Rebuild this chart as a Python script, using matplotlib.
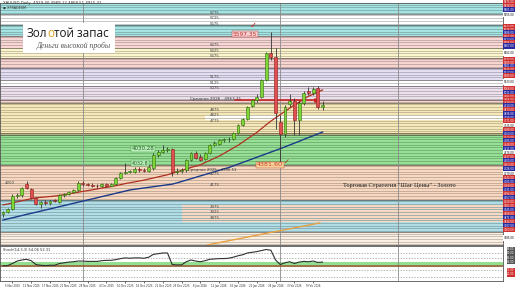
import matplotlib
matplotlib.use('Agg')
import matplotlib.pyplot as plt
import matplotlib.colors as mcolors
import matplotlib.transforms as mtransforms
from matplotlib.patches import Rectangle
import numpy as np

# daily gold candles, Nov 2025 - Feb 2026
opens = [3905, 3930, 3955, 4075, 4085, 4185, 4140, 4060, 4005, 4020, 4010, 4030, 4020, 4080, 4090, 4115, 4130,
         4195, 4188, 4180, 4172, 4165, 4185, 4172, 4188, 4240, 4290, 4300, 4300, 4325, 4318, 4310, 4330, 4456,
         4480, 4500, 4510, 4298, 4305, 4315, 4410, 4470, 4440, 4415, 4470, 4550, 4560, 4590, 4600, 4600, 4660,
         4734, 4790, 4910, 4966, 4990, 5150, 5400, 5365, 4760, 4650, 4930, 4960, 4780, 4940, 5050, 5030, 5075, 4900]
highs = [3940, 3965, 4090, 4100, 4160, 4215, 4150, 4070, 4030, 4035, 4040, 4045, 4090, 4100, 4125, 4140, 4210,
         4215, 4200, 4195, 4190, 4200, 4195, 4200, 4250, 4300, 4380, 4320, 4340, 4340, 4335, 4360, 4470, 4500,
         4545, 4530, 4520, 4330, 4330, 4420, 4480, 4490, 4460, 4480, 4560, 4585, 4600, 4615, 4620, 4670, 4740,
         4800, 4910, 4975, 5020, 5160, 5410, 5597, 5450, 4830, 4920, 5020, 4980, 4960, 5050, 5090, 5090, 5100, 4960]
lows = [3880, 3915, 3945, 4055, 4070, 4140, 4050, 3990, 3965, 3995, 3995, 4015, 4010, 4065, 4080, 4100, 4125,
        4170, 4165, 4160, 4150, 4155, 4160, 4165, 4180, 4230, 4280, 4285, 4290, 4300, 4300, 4295, 4320, 4440,
        4470, 4485, 4265, 4280, 4290, 4300, 4400, 4420, 4395, 4405, 4460, 4535, 4545, 4575, 4580, 4590, 4650,
        4720, 4780, 4900, 4950, 4980, 5140, 5340, 4700, 4382, 4620, 4900, 4640, 4640, 4920, 5010, 5010, 4880, 4870]
closes = [3930, 3955, 4075, 4085, 4150, 4145, 4060, 4005, 4020, 4010, 4030, 4028, 4080, 4092, 4115, 4130, 4195,
          4188, 4180, 4172, 4165, 4185, 4172, 4188, 4240, 4290, 4300, 4310, 4325, 4318, 4310, 4340, 4456, 4480,
          4500, 4510, 4298, 4305, 4315, 4410, 4470, 4430, 4410, 4470, 4550, 4565, 4590, 4600, 4605, 4660, 4734,
          4790, 4900, 4966, 4990, 5150, 5400, 5365, 4845, 4650, 4900, 4960, 4780, 4940, 5030, 5030, 5065, 4900, 4915]

ma_fast = [3992, 4000, 4010, 4020, 4030, 4040, 4050, 4058, 4062, 4066, 4070, 4074, 4080, 4088, 4095, 4102, 4110,
           4118, 4125, 4132, 4140, 4148, 4155, 4162, 4170, 4180, 4190, 4198, 4206, 4214, 4222, 4232, 4242, 4252,
           4262, 4272, 4285, 4298, 4312, 4326, 4340, 4352, 4363, 4385, 4405, 4425, 4445, 4470, 4495, 4520, 4545,
           4575, 4605, 4635, 4665, 4700, 4735, 4770, 4800, 4830, 4860, 4890, 4920, 4945, 4975, 5000, 5020, 5040, 5059]
ma_slow = [3852, 3862, 3872, 3883, 3893, 3904, 3914, 3924, 3934, 3945, 3955, 3965, 3976, 3986, 3996, 4007, 4017,
           4027, 4038, 4048, 4058, 4069, 4079, 4089, 4100, 4110, 4120, 4131, 4137, 4143, 4149, 4155, 4161, 4167,
           4173, 4179, 4185, 4196, 4209, 4222, 4235, 4248, 4261, 4274, 4287, 4300, 4313, 4326, 4338, 4354, 4370,
           4386, 4402, 4418, 4434, 4450, 4466, 4482, 4498, 4514, 4531, 4548, 4565, 4582, 4600, 4617, 4634, 4651, 4668]
osc = [43, 44, 50, 57, 60, 62, 58, 47, 45, 44, 45, 45, 50, 52, 54, 55, 57, 57, 56, 56, 56, 58, 59, 59, 61, 64,
       66, 65, 66, 66, 65, 68, 76, 78, 80, 80, 47, 46, 46, 55, 60, 57, 55, 58, 62, 63, 64, 64, 65, 68, 72, 75,
       80, 82, 84, 87, 90, 88, 60, 47, 52, 55, 50, 54, 56, 55, 57, 53, 54]

# labelled candles: every 4th day starting from the third
date_labels = ["5 Nov 2025", "11 Nov 2025", "17 Nov 2025", "21 Nov 2025", "28 Nov 2025", "4 Dec 2025",
               "10 Dec 2025", "16 Dec 2025", "22 Dec 2025", "29 Dec 2025", "6 Jan 2026", "12 Jan 2026",
               "16 Jan 2026", "22 Jan 2026", "28 Jan 2026", "3 Feb 2026", "9 Feb 2026"]

# colour zones of the strategy (price from, price to, colour)
zones = [(5764, 5880, '#a6e3e3'), (5662, 5764, '#ffffff'), (5560, 5662, '#a6e3e3'),
         (5449, 5560, '#f8d6d6'), (5356, 5449, '#fbf4cc'), (5263, 5356, '#f7d4cf'),
         (5152, 5263, '#e4def3'), (5096, 5152, '#ffffff'), (4966, 5096, '#ece0ec'),
         (4938, 4966, '#f5d5d0'), (4660, 4938, '#f6e8b8'), (4641, 4660, '#e8d8a0'),
         (4363, 4641, '#96e096'), (4038, 4363, '#f8d8c0'), (3741, 4038, '#b0dde6'),
         (3600, 3741, '#fbefe2')]

level_labels = [5775, 5725, 5675, 5475, 5425, 5375, 5175, 5125, 5075, 4875, 4825, 4775, 4275, 4175,
                3975, 3925, 3875]

tag_prices = [5875, 5838, 5801, 5755, 5643, 5616, 5588, 5551, 5523, 5495, 5467, 5402, 5337, 5309, 5281,
              5244, 5217, 5189, 5133, 5068, 5031, 4994, 4966, 4938, 4910, 4873, 4836, 4799, 4771, 4725,
              4688, 4650, 4613, 4585, 4548, 4511, 4474, 4437, 4400, 4363, 4326, 4279, 4242, 4205, 4168,
              4131, 4094, 4057, 4019, 3982, 3945, 3908, 3871, 3834, 3797, 3760, 3685]
tag_kinds = "rrbw" "rrbrbrbw" "rrbrbrw" "rbrrrbrbbrw" "rbrbrbw" "rbrbw" "rbrbrbrrbrbrbrw"

osc_tags = [90, 80, 66, 55, 31, 20]
osc_tag_colors = ['#555555', '#555555', '#555555', '#555555', '#d03030', '#d03030']

x = np.arange(len(closes))
XMIN, XMAX = -0.64, 106.4

fig = plt.figure(figsize=(5.16, 2.9), dpi=100)
fig.patch.set_facecolor('white')
ax = fig.add_axes([0, 45 / 290, 503 / 516, 242 / 290])
ax2 = fig.add_axes([0, 9 / 290, 503 / 516, 35 / 290])

# zones and level lines
for lo, hi, c in zones:
    ax.axhspan(lo, hi, color=c, lw=0, zorder=0)
ax.add_patch(Rectangle((43, 4780), XMAX - 43, 47, color='white', lw=0, zorder=0.5))
ax.add_patch(Rectangle((38, 3834), XMAX - 38, 158, color='#f8d8c0', lw=0, zorder=0.5))

for lvl in np.arange(3625, 5876, 25):
    col = '#b0b0b0'
    for lo, hi, c in zones:
        if lo <= lvl < hi and c != '#ffffff':
            col = tuple(np.array(mcolors.to_rgb(c)) * 0.72)
    ax.axhline(lvl, color=col, lw=0.5, zorder=1)
for lo, hi, c in zones[1:]:
    ax.axhline(hi, color=tuple(np.array(mcolors.to_rgb(c)) * 0.55), lw=0.7, zorder=1)

for sep in [17, 59, 84]:
    ax.axvline(sep, color='#8a8a8a', lw=0.6, zorder=1.5)
    ax2.axvline(sep, color='#8a8a8a', lw=0.6, zorder=1.5)

# moving averages and lines
ax.plot(x, ma_slow, color='#1a3a8a', lw=1.0, zorder=3)
ax.plot(x, ma_fast, color='#b03020', lw=0.9, zorder=3)
ax.plot([43.4, 67.4], [3620, 3825], color='#e8a040', lw=1.0, zorder=3)
ax.plot([49.4, 66.5], [4963, 4963], color='#d02020', lw=1.1, zorder=4)
ax.plot([66.5], [4963], marker='>', color='#d02020', ms=2.5, zorder=4)

# candles
for i in range(len(closes)):
    o, h, l, c = opens[i], highs[i], lows[i], closes[i]
    up = c >= o
    ax.vlines(i, l, h, color='#333333', lw=0.6, zorder=4)
    body = max(abs(c - o), 6)
    ax.bar(i, body, 0.62, bottom=min(o, c), color='#7fd636' if up else '#e05050',
           edgecolor='#2e6b10' if up else '#8b1a1a', lw=0.4, zorder=5)

ax.set_xlim(XMIN, XMAX)
ax.set_ylim(3620, 5866)
ax.set_xticks([])
ax.set_yticks([])
for s in ax.spines.values():
    s.set_color('#555555')
    s.set_linewidth(0.6)

# text on the chart
for lvl in level_labels:
    ax.text(44, lvl, str(lvl), fontsize=2.8, color='#444444', va='center', zorder=6)
ax.text(0.3, 4196, "4200", fontsize=2.8, color='#444444', va='center', zorder=6)
ax.text(48.9, 5578, "5597.35", fontsize=4.2, color='#c03030', va='center', zorder=6,
        bbox=dict(boxstyle='square,pad=0.1', fc='#f6d0d0', ec='#c03030', lw=0.3))
ax.text(53.2, 5662, "✓", fontsize=6, color='#d02020', ha='center', va='center', zorder=6)
ax.text(54, 4363, "4381.60", fontsize=4.6, color='#d04020', va='center', zorder=6,
        bbox=dict(boxstyle='square,pad=0.1', fc='#f3d2a0', ec='#d04020', lw=0.3))
ax.text(60.4, 4390, "✓", fontsize=5, color='#a03010', ha='center', va='center', zorder=6)
ax.text(27.4, 4511, "4030.28", fontsize=4, color='#206020', va='center', zorder=6,
        bbox=dict(boxstyle='square,pad=0.1', fc='#b8ecb8', ec='#40a040', lw=0.3))
ax.text(27.4, 4381, "4032.8", fontsize=3.4, color='#206020', va='center', zorder=6,
        bbox=dict(boxstyle='square,pad=0.1', fc='#b8ecb8', ec='#40a040', lw=0.3))
ax.text(39.8, 4975, "Средняя 2026 - 4963.31", fontsize=3, color='#333333', va='center', zorder=6)
ax.text(39.4, 4316, "Средняя 2025 - 4366.51", fontsize=2.8, color='#333333', va='center', zorder=6)
ax.text(72.3, 4168, "Торговая Стратегия \"Шаг Цены\" - Золото", fontsize=4.6,
        family='Liberation Serif', color='#222222', va='center', zorder=6)

# price tags on the right scale, right-aligned to the image edge
tag_tr = mtransforms.blended_transform_factory(fig.transFigure, ax.transData)
for p, k in zip(tag_prices, tag_kinds):
    fc = {'r': '#d03030', 'b': '#2a2aa0', 'w': '#ffffff'}[k]
    tc = '#000000' if k == 'w' else '#ffffff'
    fig.text(514.5 / 516, p, f"{p:.2f}", transform=tag_tr, fontsize=1.9, color=tc,
             va='center', ha='right', bbox=dict(boxstyle='square,pad=0.2', fc=fc, ec='none'))

# oscillator panel
ax2.axhspan(46, 54, color='#90e090', lw=0)
ax2.axhline(43, color='#8b5a2b', lw=1.2)
for lvl in [80, 66, 31, 11]:
    ax2.axhline(lvl, color='#999999', lw=0.5, ls=(0, (2, 2)))
ax2.plot(x, osc, color='#303030', lw=0.8)
ax2.set_xlim(XMIN, XMAX)
ax2.set_ylim(0, 100)
ax2.set_yticks([])
ax2.set_xticks(x[2::4])
ax2.set_xticklabels(date_labels, fontsize=1.9, color='#333333')
ax2.tick_params(axis='x', length=1.5, width=0.4, pad=1)
for s in ax2.spines.values():
    s.set_color('#555555')
    s.set_linewidth(0.6)
ax2.text(0.005, 0.93, "Stoch(14,3,3) 54.06 52.31", transform=ax2.transAxes, fontsize=2.6,
         color='#333333', va='top')
osc_tr = mtransforms.blended_transform_factory(fig.transFigure, ax2.transData)
for v, fc in zip(osc_tags, osc_tag_colors):
    fig.text(514.5 / 516, v, f"{v:.2f}", transform=osc_tr, fontsize=1.9, color='white',
             va='center', ha='right', bbox=dict(boxstyle='square,pad=0.2', fc=fc, ec='none'))

# header and logo
fig.text(3 / 516, 1 - 1 / 290, "XAUUSD,Daily  4929.40 4989.12 4868.51 4915.31", fontsize=2.8,
         color='#333333', va='top')
fig.text(3 / 516, 1 - 5.5 / 290, "● XTRADESM", fontsize=2.4, color='#333333', va='top')
fig.patches.append(Rectangle((23 / 516, 1 - 53 / 290), 92 / 516, 30 / 290, transform=fig.transFigure,
                             fc='white', ec='none', zorder=10))
renderer = fig.canvas.get_renderer()
logo_y = 1 - 40 / 290
xpos = 27 / 516
for piece, col in [("Зол", '#1a1a1a'), ("о", '#e0a020'), ("той запас", '#1a1a1a')]:
    t = fig.text(xpos, logo_y, piece, fontsize=8.5, family='Open Sans', color=col,
                 va='bottom', zorder=11)
    xpos = t.get_window_extent(renderer).x1 / (fig.dpi * fig.get_figwidth())
fig.text(37 / 516, 1 - 50 / 290, "Деньги высокой пробы", fontsize=5.6, family='Liberation Serif',
         style='italic', color='#555555', va='bottom', zorder=11)

fig.savefig('out.png', dpi=100)
